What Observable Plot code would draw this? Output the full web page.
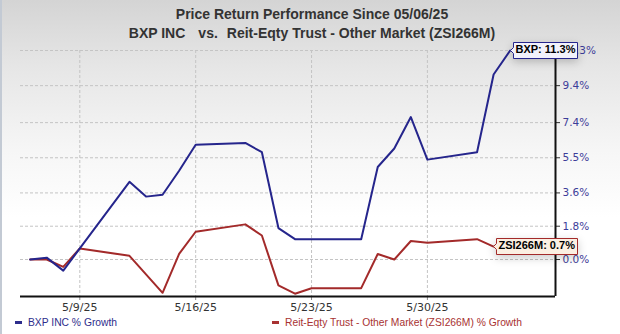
<!DOCTYPE html>
<html>
<head>
<meta charset="utf-8">
<script src="https://cdn.jsdelivr.net/npm/d3@7"></script>
<script src="https://cdn.jsdelivr.net/npm/@observablehq/plot@0.6"></script>
<style>
  html, body { margin: 0; padding: 0; background: #fff; }
  #wrap { position: relative; width: 620px; height: 334px; overflow: hidden;
    background: linear-gradient(to bottom, #d4d4d4 0%, #e6e6e6 20%, #f6f6f6 45%, #ffffff 65%);
    font-family: "Liberation Sans", Arial, sans-serif; }
  #wrap::before { content: ""; position: absolute; left: 0; top: 0; bottom: 0; width: 2px; background: #c3cad4; }
  .title { position: absolute; left: 0; width: 624px; text-align: center; font-weight: bold;
    font-size: 14px; line-height: 16px; color: #333; white-space: nowrap; }
  .title span { display: inline-block; }
  #chart { position: absolute; left: 0; top: 40px; }
  .leg { position: absolute; top: 317px; font-size: 10.3px; line-height: 12px; white-space: nowrap; }
  .leg .dash { display: inline-block; width: 7px; height: 3px; vertical-align: middle; margin-right: 6px; position: relative; top: -1px; }
</style>
</head>
<body>
<div id="wrap">
  <div class="title" style="top:6px">Price Return Performance Since 05/06/25</div>
  <div class="title" style="top:25px"><span>BXP INC</span><span style="margin-left:13px">vs.</span><span style="margin-left:9px">Reit-Eqty Trust - Other Market (ZSI266M)</span></div>
  <div id="chart"></div>
  <div class="leg" style="left:15px;color:#2d2d8c"><span class="dash" style="background:#2d2d8c"></span>BXP INC % Growth</div>
  <div class="leg" style="left:272px;color:#a83232"><span class="dash" style="background:#a83232"></span>Reit-Eqty Trust - Other Market (ZSI266M) % Growth</div>
</div>
<script>
// ---- data ----
const dates = ["2025-05-06","2025-05-07","2025-05-08","2025-05-09","2025-05-12","2025-05-13","2025-05-14",
  "2025-05-15","2025-05-16","2025-05-19","2025-05-20","2025-05-21","2025-05-22","2025-05-23","2025-05-26",
  "2025-05-27","2025-05-28","2025-05-29","2025-05-30","2025-06-02","2025-06-03","2025-06-04"];
const bxpGrowth = [0.0, 0.1, -0.6, 0.6, 4.2, 3.4, 3.5, 4.8, 6.2, 6.3, 5.8, 1.7, 1.1, 1.1, 1.1,
  5.0, 6.0, 7.7, 5.4, 5.8, 10.0, 11.3];
const zsiGrowth = [0.0, 0.0, -0.4, 0.6, 0.2, -0.8, -1.8, 0.3, 1.5, 1.9, 1.3, -1.4, -1.85, -1.55, -1.55,
  0.3, 0.0, 1.0, 0.9, 1.1, 0.7];
const xTickDates = ["2025-05-09","2025-05-16","2025-05-23","2025-05-30"];
const xTickLabels = ["5/9/25","5/16/25","5/23/25","5/30/25"];
const yTicks = [0.0, 1.8, 3.6, 5.5, 7.4, 9.4, 11.3];
const bxpLabel = "BXP: 11.3%";
const zsiLabel = "ZSI266M: 0.7%";

const parse = s => new Date(s + "T00:00:00Z");
const bxp = bxpGrowth.map((v, i) => ({date: parse(dates[i]), v}));
const zsi = zsiGrowth.map((v, i) => ({date: parse(dates[i]), v}));
const xTicks = xTickDates.map(parse);
const xLabelMap = new Map(xTicks.map((d, i) => [+d, xTickLabels[i]]));
const xDomain = [new Date(Date.UTC(2025, 4, 5, 10)), new Date(Date.UTC(2025, 5, 6, 17, 45))];
const yDomain = [-2.0, 11.3];

const BLUE = "#25258c", RED = "#a32a2a";

const chart = Plot.plot({
  width: 620, height: 276,
  marginTop: 10, marginBottom: 20, marginLeft: 20, marginRight: 65,
  style: {background: "transparent", fontFamily: "'DejaVu Sans', Verdana, sans-serif", overflow: "visible"},
  x: {type: "utc", domain: xDomain, label: null},
  y: {domain: yDomain, label: null},
  marks: [
    Plot.gridY(yTicks, {stroke: "#c4c4c4", strokeOpacity: 1, strokeDasharray: "3,2"}),
    Plot.gridX(xTicks, {stroke: "#c4c4c4", strokeOpacity: 1, strokeDasharray: "3,2"}),
    Plot.axisX(xTicks, {tickSize: 4, tickPadding: 3, fontSize: 11, fill: "#333", stroke: "#888",
      label: null, tickFormat: d => xLabelMap.get(+d)}),
    Plot.axisY(yTicks, {anchor: "right", tickSize: 4, tickPadding: 3, fontSize: 10.5, fill: "#3d3d99",
      stroke: "#333", label: null, tickFormat: d => d.toFixed(1) + "%"}),
    Plot.ruleY([yDomain[0]], {stroke: "#111", strokeWidth: 2}),
    Plot.ruleX([xDomain[1]], {stroke: "#111", strokeWidth: 2}),
    Plot.line(zsi, {x: "date", y: "v", stroke: RED, strokeWidth: 2}),
    Plot.line(bxp, {x: "date", y: "v", stroke: BLUE, strokeWidth: 2}),
    Plot.tip([bxp[bxp.length - 1]], {x: "date", y: "v", title: () => bxpLabel, anchor: "left",
      fill: "#f2f2fb", stroke: BLUE, pointerSize: 6, textPadding: 2, fontSize: 11, fontWeight: "bold",
      fontFamily: "'Liberation Sans', Arial, sans-serif", textColor: BLUE}),
    Plot.tip([zsi[zsi.length - 1]], {x: "date", y: "v", title: () => zsiLabel, anchor: "left",
      fill: "#fbefe2", stroke: RED, pointerSize: 6, textPadding: 2, fontSize: 11, fontWeight: "bold",
      fontFamily: "'Liberation Sans', Arial, sans-serif", textColor: RED})
  ]
});
document.getElementById("chart").appendChild(chart);
</script>
</body>
</html>
